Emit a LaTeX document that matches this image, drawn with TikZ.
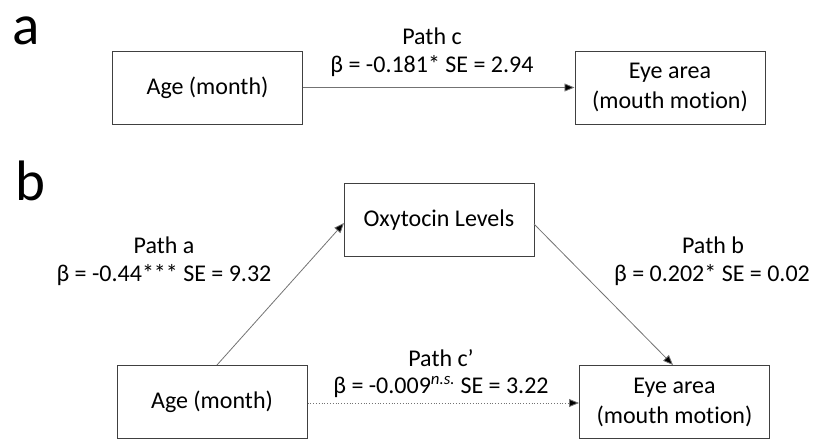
\documentclass[tikz,border=0pt]{standalone}
\usepackage{fontspec}
\setmainfont[Ligatures=NoCommon]{Carlito}
\usetikzlibrary{arrows.meta}
\begin{document}
\begin{tikzpicture}[x=1pt,y=-1pt,
  box/.style={draw=black!75,line width=1pt,minimum width=190pt,minimum height=73pt,inner sep=0pt,font=\fontsize{24}{30}\selectfont,align=center},
  lbl/.style={font=\fontsize{24}{30}\selectfont,align=center,inner sep=0pt},
  conn/.style={draw=black!55,line width=0.8pt,-{Triangle[length=10pt,width=8pt,fill=black]}},
  panel/.style={font=\fontsize{57}{57}\selectfont,inner sep=0pt,anchor=base}]
\useasboundingbox (0,0) rectangle (815,439);
\clip (0,0) rectangle (815,439);
% panel a
\node[panel,text height=28pt,text depth=0pt] (la) at (26,44) {a};
\node[box] (ageA) at (207.5,87.5) {Age (month)};
\node[box] (eyeA) at (670,87.5) {Eye area\\(mouth motion)};
\draw[conn] (ageA) -- (eyeA);
\node[lbl] (pc) at (432,36) {Path c};
\node[lbl] (bc) at (432,66) {β = -0.181* SE = 2.94};
% panel b
\node[panel] (lb) at (30,200) {b};
\node[box] (oxy) at (439,220) {Oxytocin Levels};
\node[box] (ageB) at (212,402) {Age (month)};
\node[box] (eyeB) at (674.5,402) {Eye area\\(mouth motion)};
\coordinate (ageBtop) at (217,365);
\coordinate (oxyL) at (344,223);
\coordinate (oxyR) at (534,224);
\coordinate (eyeBtop) at (673,365);
\draw[conn] (ageBtop) -- (oxyL);
\draw[conn] (oxyR) -- (eyeBtop);
\draw[conn,dotted] (ageB.east |- 0,403) -- (eyeB.west |- 0,403);
\node[lbl] (pa) at (164,245) {Path a};
\node[lbl] (ba) at (164,275) {β = -0.44*** SE = 9.32};
\node[lbl] (pb) at (713,245) {Path b};
\node[lbl] (bb) at (712,275) {β = 0.202* SE = 0.02};
\node[lbl] (pcp) at (441,358) {Path c’};
\node[lbl] (bcp) at (441,387) {β = -0.009\textsuperscript{\itshape n.s.} SE = 3.22};
\end{tikzpicture}
\end{document}
